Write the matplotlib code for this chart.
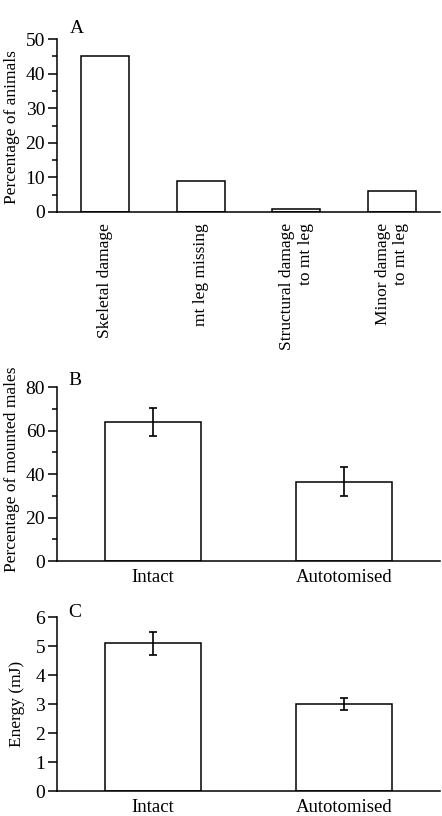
import numpy as np
import matplotlib
matplotlib.use('Agg')
import matplotlib.pyplot as plt
from matplotlib.ticker import MultipleLocator

# panel A
damage_labels = ['Skeletal damage', 'mt leg missing',
                 'Structural damage\nto mt leg', 'Minor damage\nto mt leg']
damage_pct = [45, 9, 1, 6]

# panel B
groups = ['Intact', 'Autotomised']
mounted_pct = [64, 36.5]
mounted_err = [6.5, 6.5]

# panel C
energy_mj = [5.1, 3.0]
energy_err = [0.4, 0.22]

plt.rcParams['font.family'] = ['Liberation Serif', 'DejaVu Serif']
plt.rcParams['font.size'] = 13

fig = plt.figure(figsize=(4.42, 8.16), dpi=100)
left, width = 0.129, 0.8665
axA = fig.add_axes([left, 0.7402, width, 0.212])
axB = fig.add_axes([left, 0.3125, width, 0.2132])
axC = fig.add_axes([left, 0.0306, width, 0.2132])


def style(ax):
    for s in ['top', 'right']:
        ax.spines[s].set_visible(False)
    for s in ['left', 'bottom']:
        ax.spines[s].set_linewidth(1.1)
    ax.tick_params(axis='y', which='major', length=6.5, width=1.1, pad=2,
                   labelsize=14)
    ax.tick_params(axis='y', which='minor', length=3.5, width=1.1)
    ax.tick_params(axis='x', length=0, pad=6, labelsize=13.5)


err_style = dict(ecolor='black', elinewidth=1.2, capsize=3, capthick=1.2)

# A
x = np.arange(len(damage_pct))
axA.bar(x, damage_pct, width=0.5, color='white', edgecolor='black', linewidth=1.1)
axA.set_xlim(-0.5, 3.5)
axA.set_ylim(0, 50)
axA.yaxis.set_major_locator(MultipleLocator(10))
axA.yaxis.set_minor_locator(MultipleLocator(5))
axA.set_xticks(x)
axA.set_xticklabels(damage_labels, rotation=90, va='top', ha='center',
                    multialignment='right')
axA.set_ylabel('Percentage of animals', fontsize=12.5)
style(axA)
axA.tick_params(axis='x', pad=8, labelsize=12.5)
axA.yaxis.set_label_coords(-0.097, 0.49)

# B
xb = np.arange(len(groups))
axB.bar(xb, mounted_pct, width=0.5, color='white', edgecolor='black', linewidth=1.1,
        yerr=mounted_err, error_kw=err_style)
axB.set_xlim(-0.5, 1.5)
axB.set_ylim(0, 80)
axB.yaxis.set_major_locator(MultipleLocator(20))
axB.yaxis.set_minor_locator(MultipleLocator(10))
axB.set_xticks(xb)
axB.set_xticklabels(groups)
axB.set_ylabel('Percentage of mounted males', fontsize=12.5)
style(axB)
axB.yaxis.set_label_coords(-0.097, 0.53)

# C
axC.bar(xb, energy_mj, width=0.5, color='white', edgecolor='black', linewidth=1.1,
        yerr=energy_err, error_kw=err_style)
axC.set_xlim(-0.5, 1.5)
axC.set_ylim(0, 6)
axC.yaxis.set_major_locator(MultipleLocator(1))
axC.set_xticks(xb)
axC.set_xticklabels(groups)
axC.set_ylabel('Energy (mJ)', fontsize=12.5)
style(axC)
axC.yaxis.set_label_coords(-0.083, 0.5)

# panel letters
fig.text(70 / 442, 1 - 33 / 816, 'A', fontsize=14, va='baseline')
fig.text(68 / 442, 1 - 385 / 816, 'B', fontsize=14, va='baseline')
fig.text(68 / 442, 1 - 617 / 816, 'C', fontsize=14, va='baseline')

fig.savefig('out.png', dpi=100)
